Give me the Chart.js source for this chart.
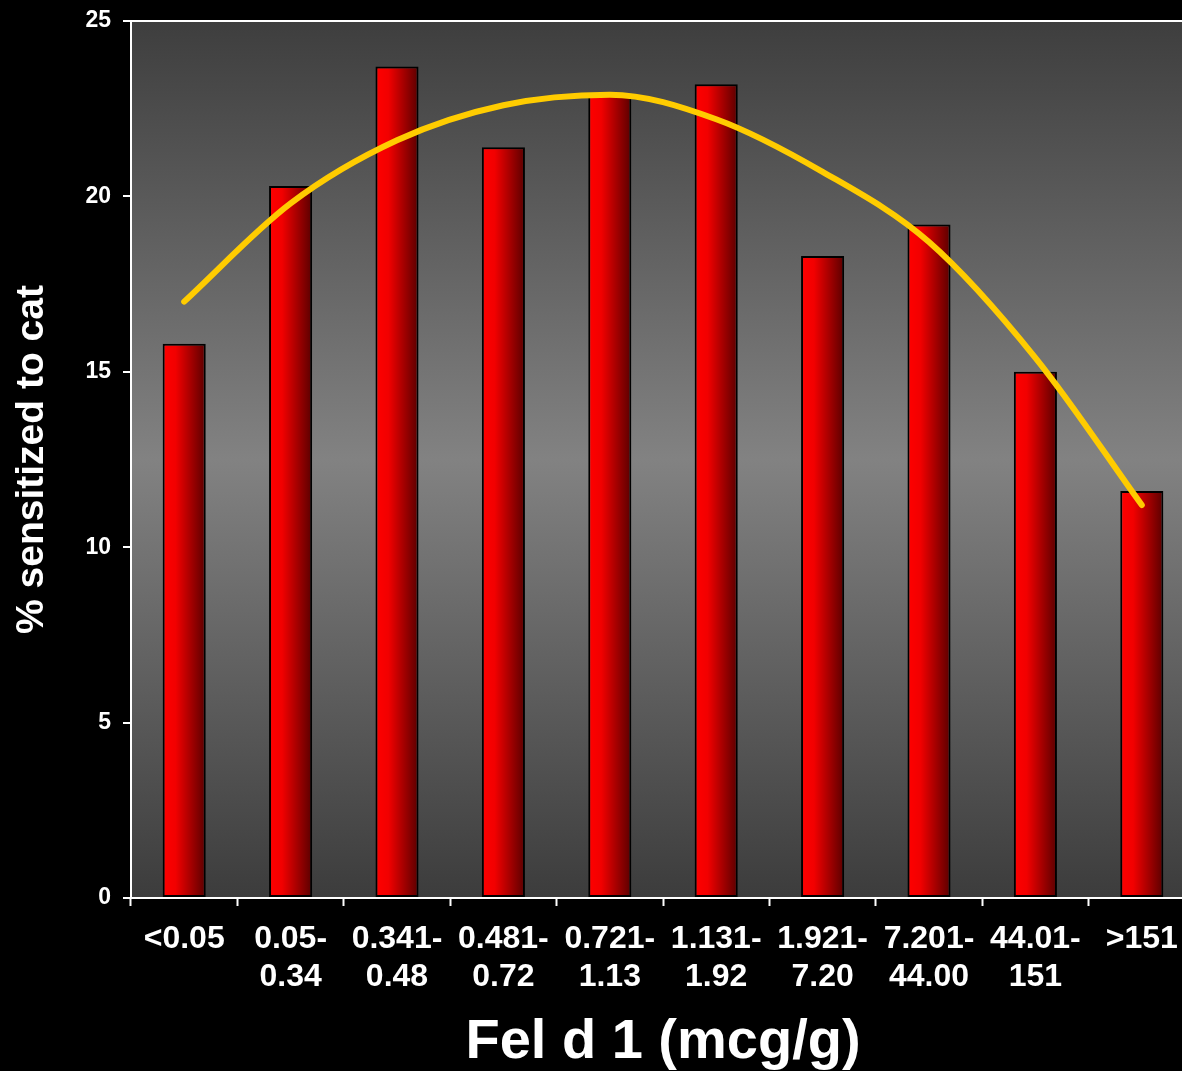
<!DOCTYPE html>
<html>
<head>
<meta charset="utf-8">
<title>Cat sensitization by Fel d 1 level</title>
<script src="https://cdn.jsdelivr.net/npm/chart.js@4/dist/chart.umd.min.js"></script>
<style>
  html, body { margin: 0; padding: 0; background: #000; overflow: hidden; }
  #wrap { width: 1182px; height: 1071px; overflow: hidden; }
  canvas { display: block; }
</style>
</head>
<body>
<div id="wrap"><canvas id="chart" width="1195" height="1071"></canvas></div>
<script>
// Fel d 1 concentration bands (mcg/g), two-line labels
const categoryLabels = [
  ["<0.05"],
  ["0.05-", "0.34"],
  ["0.341-", "0.48"],
  ["0.481-", "0.72"],
  ["0.721-", "1.13"],
  ["1.131-", "1.92"],
  ["1.921-", "7.20"],
  ["7.201-", "44.00"],
  ["44.01-", "151"],
  [">151"]
];

// % sensitized to cat in each band
const sensitizedPct = [15.8, 20.3, 23.7, 21.4, 22.9, 23.2, 18.3, 19.2, 15.0, 11.6];

// fitted trend curve, one value per band
const trendPct = [17.0, 19.8, 21.6, 22.6, 22.9, 22.2, 20.7, 18.7, 15.4, 11.2];

// y axis range
const yMin = 0;
const yMax = 25;
const yStep = 5;

const BAR_PCT = 0.405;
const FONT = '"Liberation Sans", Arial, sans-serif';

// grey backdrop, dark at the top and bottom, light in the middle
const plotBackdrop = {
  id: 'plotBackdrop',
  beforeDraw(chart) {
    const { ctx, chartArea: a } = chart;
    const g = ctx.createLinearGradient(0, a.top, 0, a.bottom);
    g.addColorStop(0, '#3e3e3e');
    g.addColorStop(0.5, '#828282');
    g.addColorStop(1, '#3c3c3c');
    ctx.save();
    ctx.fillStyle = g;
    ctx.fillRect(a.left, a.top, a.right - a.left, a.bottom - a.top);
    ctx.restore();
  }
};

// each bar: bright red on the left fading to dark red on the right
function barGradient(context) {
  const chart = context.chart;
  if (!chart.chartArea) return '#ff0000';
  const xs = chart.scales.x;
  const cx = xs.getPixelForValue(context.dataIndex);
  const w = (xs.width / categoryLabels.length) * BAR_PCT;
  const g = chart.ctx.createLinearGradient(cx - w / 2, 0, cx + w / 2, 0);
  g.addColorStop(0, '#ff0000');
  g.addColorStop(0.3, '#f20000');
  g.addColorStop(1, '#5a0000');
  return g;
}

new Chart(document.getElementById('chart'), {
  data: {
    labels: categoryLabels,
    datasets: [
      {
        type: 'line',
        data: trendPct,
        borderColor: '#ffcc00',
        borderWidth: 6,
        borderCapStyle: 'round',
        borderJoinStyle: 'round',
        cubicInterpolationMode: 'monotone',
        pointRadius: 0,
        fill: false,
        order: 0
      },
      {
        type: 'bar',
        data: sensitizedPct,
        backgroundColor: barGradient,
        borderColor: '#000000',
        borderWidth: 2,
        borderSkipped: false,
        categoryPercentage: 1,
        barPercentage: BAR_PCT,
        order: 1
      }
    ]
  },
  options: {
    responsive: false,
    devicePixelRatio: 1,
    animation: false,
    layout: { padding: { top: 21, right: 0, bottom: 0, left: 0 } },
    plugins: {
      legend: { display: false },
      tooltip: { enabled: false }
    },
    scales: {
      x: {
        offset: true,
        afterFit(scale) {
          scale.height = 173;
          scale.paddingLeft = 0;
          scale.paddingRight = 0;
        },
        border: { display: true, color: '#ffffff', width: 2 },
        grid: {
          offset: true,
          drawOnChartArea: false,
          drawTicks: true,
          tickLength: 8,
          tickColor: '#ffffff',
          tickWidth: 2
        },
        ticks: {
          color: '#ffffff',
          autoSkip: false,
          maxRotation: 0,
          padding: 15,
          font: { family: FONT, size: 32, weight: 'bold', lineHeight: 1.16 }
        },
        title: {
          display: true,
          text: 'Fel d 1 (mcg/g)',
          color: '#ffffff',
          padding: { top: 0, bottom: 0 },
          font: { family: FONT, size: 56, weight: 'bold', lineHeight: 1.0 }
        }
      },
      y: {
        min: yMin,
        max: yMax,
        afterFit(scale) {
          scale.width = 131;
          scale.paddingTop = 0;
          scale.paddingBottom = 0;
        },
        border: { display: true, color: '#ffffff', width: 2 },
        grid: {
          drawOnChartArea: true,
          color: (c) => (c.tick && c.tick.value === yMax ? '#ffffff' : 'rgba(0,0,0,0)'),
          lineWidth: 2,
          tickLength: 8,
          tickColor: '#ffffff',
          tickWidth: 2
        },
        ticks: {
          stepSize: yStep,
          color: '#ffffff',
          padding: 12,
          font: { family: FONT, size: 23, weight: 'bold' }
        },
        title: {
          display: true,
          text: '% sensitized to cat',
          color: '#ffffff',
          padding: { top: 9, bottom: 0 },
          font: { family: FONT, size: 39, weight: 'bold', lineHeight: 1.2 }
        }
      }
    }
  },
  plugins: [plotBackdrop]
});
</script>
</body>
</html>
